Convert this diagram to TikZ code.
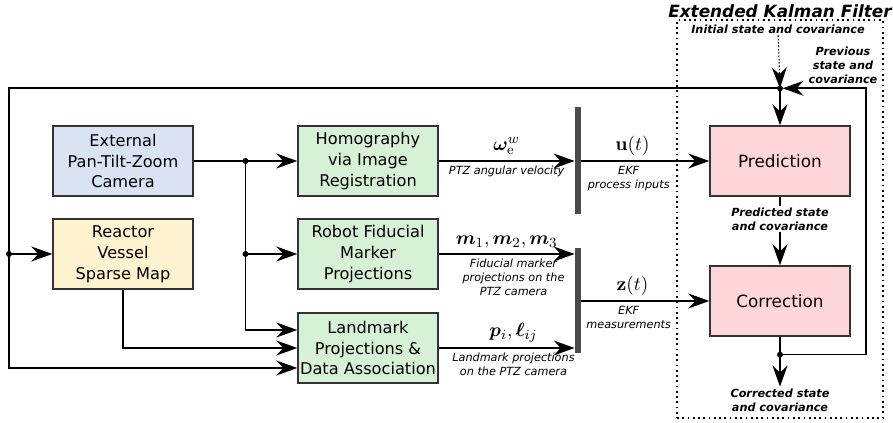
\documentclass[tikz,border=0pt]{standalone}
\usepackage{amsmath}
\usepackage{bm}
\usepackage[no-math]{fontspec}
\setmainfont{DejaVu Sans}
\usetikzlibrary{arrows.meta, positioning, calc}

\definecolor{bleucam}{RGB}{218,227,243}
\definecolor{jaunecarte}{RGB}{255,243,207}
\definecolor{vertbloc}{RGB}{214,241,214}
\definecolor{rosefiltre}{RGB}{255,214,216}

\begin{document}
\begin{tikzpicture}[
  font=\fontsize{9.2}{11.9}\selectfont,
  bloc/.style={
    draw=black!80, line width=0.8pt,
    minimum width=2.8cm, minimum height=1.4cm,
    align=center, inner sep=1pt
  },
  bus/.style={
    fill=black!70, draw=none, inner sep=0pt,
    minimum width=0.12cm
  },
  fleche/.style={
    arrows={-Stealth[length=4.2mm, width=3mm, inset=1.4mm]},
    line width=0.9pt
  },
  legende/.style={font=\fontsize{6.4}{7.9}\selectfont\itshape, align=center, inner sep=2.5pt},
  legendegras/.style={font=\fontsize{6.4}{7.9}\selectfont\bfseries\itshape, align=center, inner sep=1pt},
  maths/.style={font=\fontsize{11}{13}\selectfont, inner sep=2pt, yshift=1pt},
  jonction/.style={circle, fill=black, inner sep=0pt, minimum size=3.4pt}
]
\useasboundingbox (0,0) rectangle (17.86,8.46);

% ----- Sources -----
\node[bloc, fill=bleucam] (camera) at (2.46, 5.24) {External\\Pan-Tilt-Zoom\\Camera};
\node[bloc, fill=jaunecarte] (carte) at (2.46, 3.38) {Reactor\\Vessel\\Sparse Map};

% ----- Traitements -----
\node[bloc, fill=vertbloc] (homog) at (7.36, 5.24) {Homography\\via Image\\Registration};
\node[bloc, fill=vertbloc] (fiduc) at (7.36, 3.38) {Robot Fiducial\\Marker\\Projections};
\node[bloc, fill=vertbloc] (repere) at (7.36, 1.50) {Landmark\\Projections \&\\Data Association};

% ----- Bus d'entree du filtre -----
\node[bus, minimum height=2.14cm] (busu) at (11.56, 5.25) {};
\node[bus, minimum height=2.10cm] (busz) at (11.56, 2.45) {};

% ----- Filtre de Kalman etendu -----
\node[draw, dotted, line width=1pt, minimum width=4.12cm, minimum height=7.96cm, inner sep=0pt]
  (ekf) at (15.60, 4.08) {};
\node[above, inner sep=0.5pt, font=\fontsize{9.6}{11}\selectfont\bfseries\itshape]
  (titre) at (ekf.north) {Extended Kalman Filter};

\node[bloc, fill=rosefiltre, font=\fontsize{9.6}{12}\selectfont] (pred) at (15.60, 5.24) {Prediction};
\node[bloc, fill=rosefiltre, font=\fontsize{9.6}{12}\selectfont] (corr) at (15.60, 2.44) {Correction};

\node[legendegras] (init) at (15.56, 7.88) {Initial state and covariance};
\node[legendegras] (prec) at (16.86, 7.16) {Previous\\state and\\covariance};
\node[legendegras] (predlab) at (15.60, 4.08) {Predicted state\\and covariance};
\node[legendegras] (corrlab) at (15.60, 0.46) {Corrected state\\and covariance};

% ----- Jonctions -----
\coordinate (jhaut) at ($(pred.north)+(0,0.74)$);
\coordinate (jbas) at ($(corr.south)+(0,-0.36)$);
\coordinate (jcam) at ($(camera.east)!0.5!(homog.west)$);
\coordinate (coin) at (0.18, 1.10);
\coordinate (jgauche) at (coin |- carte);
\path (jbas) ++(1.72,0) coordinate (boucle);

% ----- Liaisons -----
\draw[fleche] (camera) -- (homog);
\draw[fleche] (jcam) |- (fiduc.west);
\draw[fleche] (jcam) |- ($(repere.west)+(0,0.36)$);
\draw[fleche] (carte.south) |- (repere.west);
\draw[fleche] (jhaut) -| (coin) -- (coin -| repere.west);
\draw[fleche] (jgauche) -- (carte.west);

\draw[fleche] (homog.east) -- (homog.east -| busu.west)
  node[midway, above, maths] {$\bm{\omega}_{\mathrm{e}}^{w}$}
  node[midway, below, legende] {PTZ angular velocity};
\draw[fleche] (fiduc.east) -- (fiduc.east -| busz.west)
  node[midway, above, maths] {$\bm{m}_1, \bm{m}_2, \bm{m}_3$}
  node[pos=0.55, below, legende] {Fiducial marker\\projections on the\\PTZ camera};
\draw[fleche] (repere.east) -- (repere.east -| busz.west)
  node[pos=0.55, above, maths] {$\bm{p}_i, \bm{\ell}_{ij}$}
  node[pos=0.55, below, legende] {Landmark projections\\on the PTZ camera};

\draw[fleche] (busu.east |- pred.west) -- (pred.west)
  node[pos=0.4, above, maths] {$\mathbf{u}(t)$}
  node[pos=0.37, below, legende] {EKF\\process inputs};
\draw[fleche] (busz.east |- corr.west) -- (corr.west)
  node[pos=0.4, above, maths] {$\mathbf{z}(t)$}
  node[pos=0.37, below, legende] {EKF\\measurements};

\draw[fleche, densely dotted, line width=0.6pt] (init) -- (jhaut);
\draw[fleche] (jhaut) -- (pred.north);
\draw[line width=0.9pt] (pred.south) -- (predlab.north);
\draw[fleche] (predlab.south) -- (corr.north);
\draw[line width=0.9pt] (corr.south) -- (jbas);
\draw[fleche] (jbas) -- (corrlab.north);
\draw[fleche, shorten >=1.5pt] (jbas) -- (boucle) |- (jhaut);

\foreach \j in {jhaut, jbas, jcam, jgauche} \node[jonction] at (\j) {};
\node[jonction] at (jcam |- fiduc) {};

\end{tikzpicture}
\end{document}
